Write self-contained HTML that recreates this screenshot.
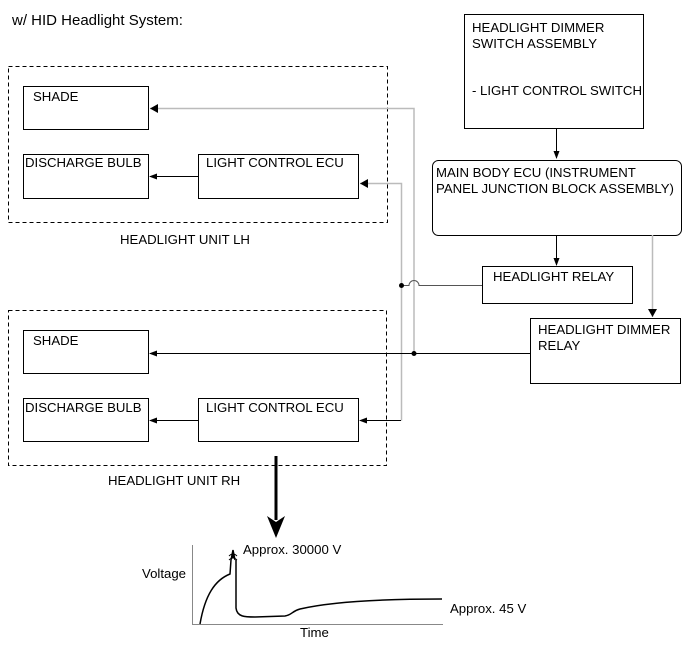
<!DOCTYPE html>
<html><head><meta charset="utf-8"><style>
html,body{margin:0;padding:0;background:#fff}
svg{display:block}
text{font-family:"Liberation Sans",sans-serif;font-size:13.2px;fill:#000}
</style></head><body>
<svg width="689" height="659" viewBox="0 0 689 659" xmlns="http://www.w3.org/2000/svg">
<defs>
<marker id="a" markerWidth="8" markerHeight="8" refX="7" refY="4" orient="auto" markerUnits="userSpaceOnUse"><path d="M0,1 L8,4 L0,7 Z" fill="#000"/></marker>
</defs>
<text x="12" y="25" style="font-size:15px">w/ HID Headlight System:</text>

<rect x="464.5" y="14.5" width="179" height="114" fill="none" stroke="#000"/>
<text x="472" y="32">HEADLIGHT DIMMER</text>
<text x="472" y="48">SWITCH ASSEMBLY</text>
<text x="472" y="95">- LIGHT CONTROL SWITCH</text>
<line x1="556.5" y1="128" x2="556.5" y2="158" stroke="#000" marker-end="url(#a)"/>

<rect x="432.5" y="160.5" width="249" height="75" rx="6" fill="none" stroke="#000"/>
<text x="436" y="177">MAIN BODY ECU (INSTRUMENT</text>
<text x="436" y="193">PANEL JUNCTION BLOCK ASSEMBLY)</text>
<line x1="556.5" y1="235" x2="556.5" y2="265" stroke="#000" marker-end="url(#a)"/>
<line x1="652.5" y1="235" x2="652.5" y2="317" stroke="#bbb" stroke-width="1.5"/>
<path d="M648,309 L652.5,317 L657,309 Z" fill="#000"/>

<rect x="482.5" y="266.5" width="150" height="37" fill="none" stroke="#000"/>
<text x="493" y="281">HEADLIGHT RELAY</text>
<rect x="530.5" y="318.5" width="150" height="65" fill="none" stroke="#000"/>
<text x="538" y="334">HEADLIGHT DIMMER</text>
<text x="538" y="350">RELAY</text>

<rect x="8.5" y="66.5" width="379" height="156" fill="none" stroke="#000" stroke-dasharray="4,3"/>
<rect x="23.5" y="86.5" width="125" height="43" fill="none" stroke="#000"/>
<text x="33" y="101">SHADE</text>
<rect x="23.5" y="154.5" width="125" height="44" fill="none" stroke="#000"/>
<text x="25" y="167">DISCHARGE BULB</text>
<rect x="198.5" y="154.5" width="160" height="44" fill="none" stroke="#000"/>
<text x="206" y="167">LIGHT CONTROL ECU</text>
<line x1="198" y1="176.5" x2="150" y2="176.5" stroke="#000" marker-end="url(#a)"/>
<text x="120" y="244">HEADLIGHT UNIT LH</text>

<rect x="8.5" y="310.5" width="378" height="155" fill="none" stroke="#000" stroke-dasharray="4,3"/>
<rect x="23.5" y="330.5" width="125" height="43" fill="none" stroke="#000"/>
<text x="33" y="345">SHADE</text>
<rect x="23.5" y="398.5" width="125" height="43" fill="none" stroke="#000"/>
<text x="25" y="412">DISCHARGE BULB</text>
<rect x="198.5" y="398.5" width="160" height="43" fill="none" stroke="#000"/>
<text x="206" y="412">LIGHT CONTROL ECU</text>
<line x1="198" y1="420.5" x2="150" y2="420.5" stroke="#000" marker-end="url(#a)"/>
<text x="108" y="485">HEADLIGHT UNIT RH</text>

<polyline points="414,353 414,108.5 150,108.5" fill="none" stroke="#bbb" stroke-width="1.5"/>
<path d="M158,104 L150,108.5 L158,113 Z" fill="#000"/>
<polyline points="401.5,420.5 401.5,183.5 360,183.5" fill="none" stroke="#bbb" stroke-width="1.5"/>
<path d="M368,179 L360,183.5 L368,188 Z" fill="#000"/>
<path d="M401,420.5 L360,420.5" stroke="#000" fill="none" marker-end="url(#a)"/>
<path d="M401.5,285.5 L409,285.5 A5,5 0 0 1 419,285.5 L482,285.5" fill="none" stroke="#555"/>
<circle cx="401.5" cy="285.5" r="2.5" fill="#000"/>
<line x1="530" y1="353.5" x2="150" y2="353.5" stroke="#000" marker-end="url(#a)"/>
<circle cx="414" cy="353.5" r="2.5" fill="#000"/>

<line x1="276" y1="456" x2="276" y2="520" stroke="#000" stroke-width="3"/>
<path d="M267,516 L276,538 L285,516 L276,522 Z" fill="#000"/>

<polyline points="192.5,545 192.5,624.5 443,624.5" fill="none" stroke="#888"/>
<text x="142" y="578">Voltage</text>
<text x="300" y="637">Time</text>
<text x="243" y="554">Approx. 30000 V</text>
<text x="450" y="613">Approx. 45 V</text>
<path d="M200,624 C205,595 215,580 230,574 L231,560 M231,560 L233,550 L235,560 M233,558 L233,553" fill="none" stroke="#000" stroke-width="1.5"/>
<path d="M229,560 Q233,556 237,560 M229,556 Q233,552 237,556" fill="none" stroke="#000" stroke-width="1"/>
<path d="M236,560 L236,608 C237,617 245,617 255,617 L285,616 C292,615 292,611 300,609 C330,602 380,599 442,599" fill="none" stroke="#000" stroke-width="1.5"/>
</svg>
</body></html>
